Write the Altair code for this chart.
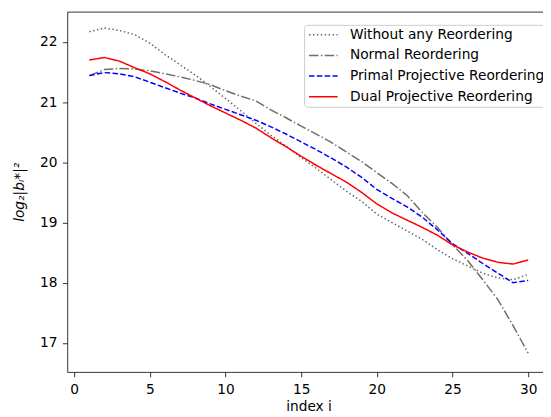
import altair as alt
import pandas as pd

idx = list(range(1, 31))

without_any = [22.17, 22.23, 22.19, 22.12, 21.98, 21.79, 21.62, 21.45, 21.26, 21.06,
               20.86, 20.65, 20.45, 20.27, 20.08, 19.90, 19.71, 19.52, 19.35, 19.14,
               19.00, 18.86, 18.72, 18.55, 18.40, 18.28, 18.16, 18.08, 18.05, 18.14]
normal = [21.44, 21.54, 21.56, 21.55, 21.52, 21.47, 21.42, 21.36, 21.29, 21.19,
          21.10, 21.02, 20.87, 20.74, 20.60, 20.47, 20.33, 20.17, 20.01, 19.83,
          19.65, 19.45, 19.17, 18.92, 18.63, 18.37, 18.05, 17.72, 17.29, 16.83]
primal = [21.44, 21.49, 21.47, 21.42, 21.33, 21.24, 21.15, 21.07, 20.97, 20.88,
          20.79, 20.70, 20.59, 20.47, 20.34, 20.21, 20.07, 19.92, 19.75, 19.55,
          19.40, 19.26, 19.09, 18.88, 18.65, 18.49, 18.32, 18.16, 18.00, 18.04]
dual = [21.70, 21.74, 21.68, 21.57, 21.47, 21.34, 21.20, 21.07, 20.94, 20.82,
        20.70, 20.57, 20.41, 20.26, 20.10, 19.95, 19.81, 19.67, 19.50, 19.31,
        19.16, 19.04, 18.92, 18.79, 18.63, 18.51, 18.41, 18.34, 18.31, 18.38]

names = ["Without any Reordering", "Normal Reordering",
         "Primal Projective Reordering", "Dual Projective Reordering"]
series = [without_any, normal, primal, dual]
colors = ["#666666", "#6e6e6e", "#0000ff", "#ff0000"]
dashes = [[1.5, 2.475], [9.6, 2.4, 1.5, 2.4], [5.55, 2.4], [1, 0]]

x_ticks = [0, 5, 10, 15, 20, 25, 30]
y_ticks = [17, 18, 19, 20, 21, 22]

rows = []
for k, (n, s) in enumerate(zip(names, series)):
    for i, v in zip(idx, s):
        rows.append({"i": i, "v": v, "series": n, "order": k})
df = pd.DataFrame(rows)

FONT = "DejaVu Sans"
FS = 13.9

xscale = alt.Scale(domain=[-0.4566, 30.98], nice=False, zero=False)
yscale = alt.Scale(domain=[16.52, 22.503], nice=False, zero=False)

legend_kw = dict(
    title=None, orient="none", legendX=240.0, legendY=13.4,
    symbolType="M-2.9,0H2.9", symbolSize=100, symbolStrokeWidth=1.5,
    symbolOffset=9.5, labelOffset=20, labelLimit=400,
    labelFont=FONT, labelFontSize=FS, labelColor="black",
    rowPadding=6, padding=3,
    strokeColor="#cccccc", fillColor="white", cornerRadius=3,
)

lines = alt.Chart(df).mark_line(strokeWidth=1.5, strokeCap="butt", clip=True).encode(
    x=alt.X("i:Q", scale=xscale,
            axis=alt.Axis(values=x_ticks, title="index i", grid=False, format="d",
                          labelPadding=6.5, titleX=244.5, titleAlign="center",
                          titlePadding=3)),
    y=alt.Y("v:Q", scale=yscale,
            axis=alt.Axis(values=y_ticks, title="log₂|bᵢ*|²", grid=False, format="d",
                          labelPadding=5.5, titleFontStyle="italic", titlePadding=13)),
    color=alt.Color("series:N", scale=alt.Scale(domain=names, range=colors),
                    legend=alt.Legend(**legend_kw)),
    strokeDash=alt.StrokeDash("series:N", scale=alt.Scale(domain=names, range=dashes),
                              legend=alt.Legend(**legend_kw)),
    order=alt.Order("order:Q"),
)

top = alt.Chart(df).mark_point(opacity=0).encode(
    x=alt.X("i:Q", scale=xscale,
            axis=alt.Axis(orient="top", labels=False, ticks=False, title=None,
                          grid=False, domain=True)),
    y=alt.Y("v:Q", scale=yscale),
)

chart = alt.layer(lines, top).resolve_axis(x="independent").properties(
    width=482, height=365,
    autosize=alt.AutoSizeParams(type="none"),
    padding={"left": 60, "top": 1, "right": 0, "bottom": 40},
).configure_view(stroke=None).configure_axis(
    labelFont=FONT, labelFontSize=FS, labelColor="black",
    titleFont=FONT, titleFontSize=FS, titleColor="black", titleFontWeight="normal",
    domainColor="black", domainWidth=0.8, tickColor="black", tickWidth=0.8,
    tickSize=4.9,
)

chart.save("out.html", embed_options={"renderer": "svg", "actions": False})
